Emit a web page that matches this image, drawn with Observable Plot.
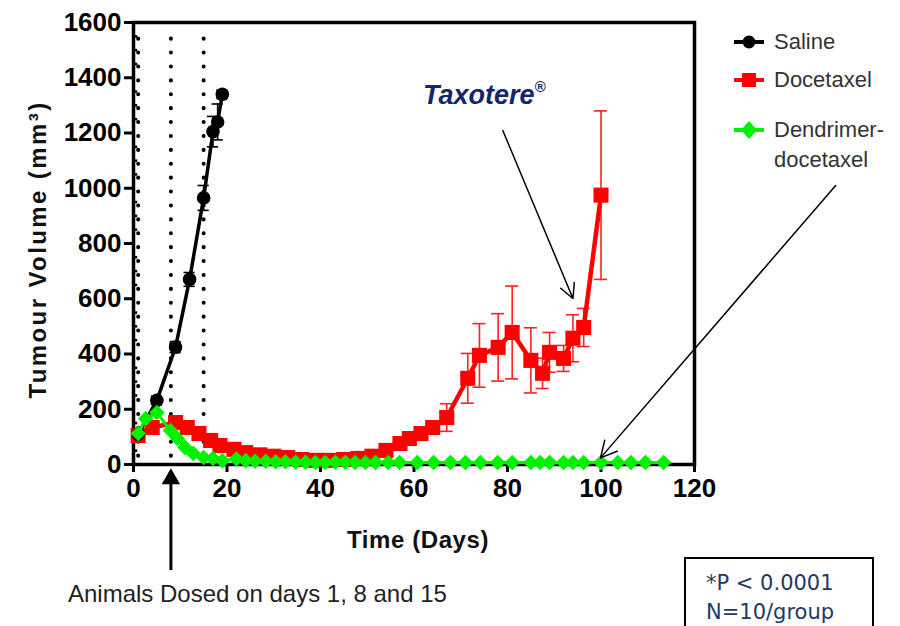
<!DOCTYPE html>
<html><head><meta charset="utf-8">
<script src="https://cdn.jsdelivr.net/npm/d3@7"></script>
<script src="https://cdn.jsdelivr.net/npm/@observablehq/plot@0.6"></script>
<style>
body{margin:0;background:#fff;}
#wrap{position:relative;width:900px;height:626px;overflow:hidden;font-family:"Liberation Sans",Arial,sans-serif;background:#fff;}
#wrap svg.plot{position:absolute;left:0;top:0;}
.lg{position:absolute;left:722px;font-size:22px;color:#333;line-height:30px;}
.lg svg{position:absolute;left:0;top:0;}
.lg span{position:absolute;left:52px;white-space:nowrap;}
#tax{position:absolute;left:423px;top:80px;font-size:27px;font-weight:bold;font-style:italic;color:#13266b;white-space:nowrap;}
#tax sup{font-size:15px;position:relative;top:-2px;}
#dose{position:absolute;left:68px;top:580px;font-size:24px;color:#222;white-space:nowrap;}
#box{position:absolute;left:684px;top:557px;width:190px;height:90px;border:2px solid #000;box-sizing:border-box;font-family:"DejaVu Sans",Verdana,sans-serif;font-size:21px;color:#1f3864;padding:10px 0 0 20px;line-height:29px;}
</style></head><body><div id="wrap"></div>
<script>
// ---- data ----
const salineDays = [1, 5, 9, 12, 15, 17, 18, 19];
const salineVol  = [110, 232, 425, 670, 965, 1205, 1240, 1340];
const salineErr  = [5, 15, 20, 25, 45, 55, 65, 15];

const doceDays = [1, 4, 9, 11.5, 14, 16.5, 18.5, 21.5, 24, 27, 30, 33, 36, 39, 42, 45, 48, 51, 54, 57, 59, 61.5, 64, 67, 71.5, 74, 78, 81, 85, 87.5, 89, 92, 94, 96.3, 100];
const doceVol  = [105, 134, 152, 134, 112, 87, 69, 55, 43, 35, 30, 25, 18, 15, 15, 18, 22, 30, 51, 76, 94, 112, 134, 170, 312, 395, 424, 478, 377, 330, 406, 384, 457, 496, 975];
const doceErr  = [8, 10, 12, 10, 8, 8, 6, 6, 5, 5, 4, 4, 3, 3, 3, 3, 4, 5, 6, 8, 10, 15, 20, 50, 90, 115, 122, 168, 118, 55, 72, 47, 85, 69, 305];

const dendDays = [1, 2.6, 5, 7.9, 9.4, 11, 12.8, 15, 17, 19, 22, 24, 26, 28.3, 30.4, 32.5, 34.7, 36.8, 38.9, 41, 43.2, 45.3, 47.4, 49.6, 51.8, 54.5, 56.9, 60.7, 64.2, 67.8, 71, 74.2, 77.9, 81, 85, 87, 89, 92, 94, 96.3, 100, 103.6, 106.4, 109.5, 113.4];
const dendVol  = [112, 166, 188, 123, 94, 62, 40, 25, 22, 14, 20, 14, 12, 12, 10, 10, 8, 8, 7, 7, 8, 8, 7, 7, 7, 7, 7, 7, 7, 7, 7, 7, 7, 7, 7, 7, 7, 7, 7, 7, 7, 7, 7, 7, 7];

const doseDays = [1, 8, 15];
const xTicks = [0, 20, 40, 60, 80, 100, 120];
const yTicks = [0, 200, 400, 600, 800, 1000, 1200, 1400, 1600];
const yMinor = d3.range(0, 1601, 50).filter(v => v % 200 !== 0);

const saline = salineDays.map((d, i) => ({day: d, vol: salineVol[i], err: salineErr[i]}));
const doce = doceDays.map((d, i) => ({day: d, vol: doceVol[i], err: doceErr[i]}));
const dend = dendDays.map((d, i) => ({day: d, vol: dendVol[i]}));

const font = "'Liberation Sans', Arial, sans-serif";
const yTitle = "Tumour Volume (mm³)";

const chart = Plot.plot({
  width: 900, height: 626,
  marginLeft: 133, marginRight: 206, marginTop: 22, marginBottom: 162,
  style: {fontFamily: font, background: "transparent", color: "black", overflow: "visible"},
  x: {domain: [0, 120]},
  y: {domain: [0, 1600]},
  marks: [
    // dotted dosing lines
    Plot.ruleX(doseDays, {x: d => d, y1: 30, y2: 1555, stroke: "black", strokeWidth: 4, strokeDasharray: "0.1 13.8", strokeLinecap: "round"}),
    // minor y ticks
    Plot.ruleY(yMinor, {y: d => d, x1: 0, x2: 0.9, stroke: "black", strokeWidth: 2.5}),
    Plot.axisY({ticks: yTicks, tickFormat: d => String(d), tickSize: 9, tickPadding: 3, strokeWidth: 3, fontSize: 26, fontWeight: "bold", label: null}),
    Plot.axisX({ticks: xTicks, tickFormat: d => String(d), tickSize: 8, tickPadding: 6, strokeWidth: 3, fontSize: 26, fontWeight: "bold", label: null}),
    Plot.frame({stroke: "black", strokeWidth: 3.5}),
    // axis titles
    Plot.text([yTitle], {text: d => d, frameAnchor: "left", textAnchor: "middle", dx: -95, dy: 6, rotate: -90, fontSize: 24, fontWeight: "bold", fill: "#111"}),
    Plot.text(["Time (Days)"], {text: d => d, frameAnchor: "bottom", lineAnchor: "middle", dx: 4, dy: 76, fontSize: 24, fontWeight: "bold", fill: "#111"}),
    // docetaxel
    Plot.ruleX(doce, {x: "day", y1: d => d.vol - d.err, y2: d => d.vol + d.err, stroke: "#ff2020", strokeWidth: 1.6}),
    Plot.ruleY(doce, {y: d => d.vol + d.err, x1: d => d.day - 1.4, x2: d => d.day + 1.4, stroke: "#ff2020", strokeWidth: 1.6}),
    Plot.ruleY(doce, {y: d => d.vol - d.err, x1: d => d.day - 1.4, x2: d => d.day + 1.4, stroke: "#ff2020", strokeWidth: 1.6}),
    Plot.line(doce, {x: "day", y: "vol", stroke: "#ff0000", strokeWidth: 4.5}),
    Plot.dot(doce, {x: "day", y: "vol", symbol: "square", r: 8.5, fill: "#ff0000", stroke: "none"}),
    // saline
    Plot.ruleX(saline, {x: "day", y1: d => d.vol - d.err, y2: d => d.vol + d.err, stroke: "black", strokeWidth: 1.6}),
    Plot.ruleY(saline, {y: d => d.vol + d.err, x1: d => d.day - 1.2, x2: d => d.day + 1.2, stroke: "black", strokeWidth: 1.6}),
    Plot.ruleY(saline, {y: d => d.vol - d.err, x1: d => d.day - 1.2, x2: d => d.day + 1.2, stroke: "black", strokeWidth: 1.6}),
    Plot.line(saline, {x: "day", y: "vol", stroke: "black", strokeWidth: 3.5}),
    Plot.dot(saline, {x: "day", y: "vol", r: 6.8, fill: "black", stroke: "none"}),
    // dendrimer-docetaxel
    Plot.line(dend, {x: "day", y: "vol", stroke: "#00ee00", strokeWidth: 3}),
    Plot.dot(dend, {x: "day", y: "vol", symbol: "diamond2", r: 7, fill: "#00f000", stroke: "none"}),
    // annotation arrows
    Plot.arrow([{x1: 79, y1: 1209, x2: 94, y2: 601}], {x1: "x1", y1: "y1", x2: "x2", y2: "y2", stroke: "black", strokeWidth: 1.5, headLength: 16, headAngle: 55}),
    Plot.arrow([{x1: 150.2, y1: 1010, x2: 99.9, y2: 24}], {x1: "x1", y1: "y1", x2: "x2", y2: "y2", stroke: "black", strokeWidth: 1.5, headLength: 18, headAngle: 55}),
    Plot.ruleX([{x: 8, y1: -384, y2: -60}], {x: "x", y1: "y1", y2: "y2", stroke: "black", strokeWidth: 3}),
    Plot.dot([{x: 8, y: -52}], {x: "x", y: "y", symbol: "triangle", r: 6.8, fill: "black", stroke: "none"})
  ]
});
chart.classList.add("plot");
chart.querySelectorAll("text").forEach(t => {
  if (t.textContent === yTitle) t.style.letterSpacing = "2.4px";
  if (t.textContent === "Time (Days)") t.style.letterSpacing = "0.6px";
});
const wrap = document.getElementById("wrap");
wrap.appendChild(chart);

// legend
const legendItems = [
  {label: "Saline", color: "black", symbol: "circle", top: 27},
  {label: "Docetaxel", color: "#ff0000", symbol: "square", top: 65},
  {label: "Dendrimer-<br>docetaxel", color: "#00f000", symbol: "diamond", top: 115}
];
for (const it of legendItems) {
  const div = document.createElement("div");
  div.className = "lg";
  div.style.top = it.top + "px";
  let m;
  if (it.symbol === "circle") m = `<circle cx="27" cy="15" r="6.5" fill="${it.color}"/>`;
  else if (it.symbol === "square") m = `<rect x="20" y="8" width="14" height="14" fill="${it.color}"/>`;
  else m = `<path d="M27 6 L35 15 L27 24 L19 15 Z" fill="${it.color}"/>`;
  div.innerHTML = `<svg width="50" height="30"><line x1="12" x2="42" y1="15" y2="15" stroke="${it.color}" stroke-width="4"/>${m}</svg><span>${it.label}</span>`;
  wrap.appendChild(div);
}
const tax = document.createElement("div");
tax.id = "tax"; tax.innerHTML = "Taxotere<sup>®</sup>";
wrap.appendChild(tax);
const dose = document.createElement("div");
dose.id = "dose"; dose.textContent = "Animals Dosed on days 1, 8 and 15";
wrap.appendChild(dose);
const box = document.createElement("div");
box.id = "box"; box.innerHTML = "*P &lt; 0.0001<br>N=10/group";
wrap.appendChild(box);
</script>
</body></html>
